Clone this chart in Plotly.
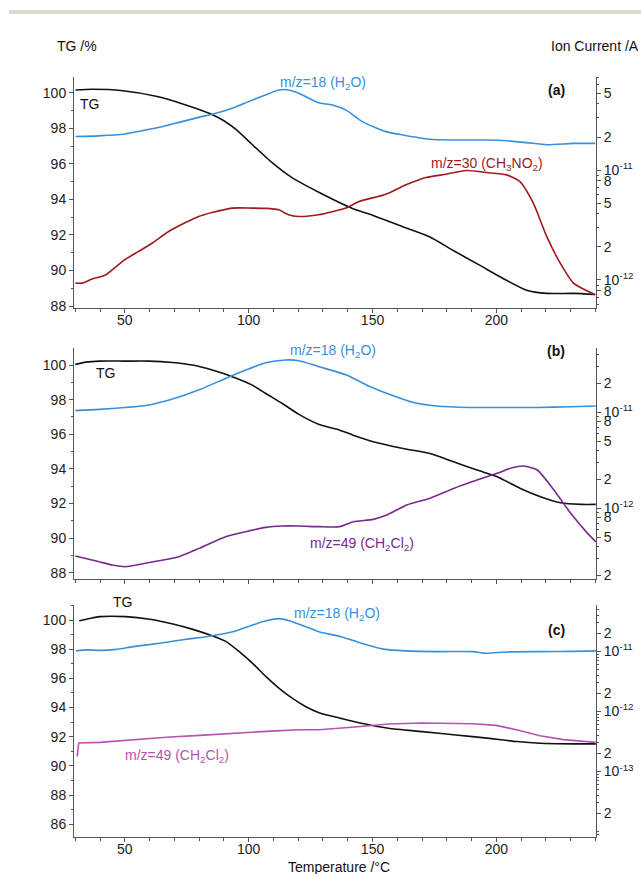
import math
import plotly.graph_objects as go

# ---------------- data ----------------
# Panel (a)
a_tg_t = [30.1, 36.8, 49.2, 62.6, 73.4, 84.8, 90.0, 95.0, 101.3, 109.6, 117.5, 128.3, 141.9, 150.0, 162.2, 173.0, 182.4, 193.2, 202.7, 212.2, 220.3, 231.1, 239.9]
a_tg_v = [100.15, 100.19, 100.11, 99.80, 99.37, 98.80, 98.42, 97.92, 97.10, 96.05, 95.22, 94.40, 93.49, 93.11, 92.46, 91.90, 91.14, 90.30, 89.55, 88.89, 88.71, 88.71, 88.65]

a_h2o_t = [30.1, 39.5, 50.0, 57.0, 65.0, 72.0, 79.8, 85.2, 93.3, 100.0, 106.7, 112.1, 116.1, 120.2, 128.2, 133.8, 139.2, 145.9, 155.4, 162.2, 173.0, 182.4, 196.0, 204.1, 212.2, 220.3, 231.1, 239.9]
a_h2o_i = [2.02e-11, 2.05e-11, 2.13e-11, 2.28e-11, 2.48e-11, 2.72e-11, 3.02e-11, 3.22e-11, 3.65e-11, 4.20e-11, 4.83e-11, 5.36e-11, 5.36e-11, 5.00e-11, 4.11e-11, 3.92e-11, 3.53e-11, 2.76e-11, 2.24e-11, 2.09e-11, 1.91e-11, 1.88e-11, 1.88e-11, 1.85e-11, 1.78e-11, 1.70e-11, 1.75e-11, 1.75e-11]

a_m30_t = [30.1, 32.8, 36.8, 42.2, 50.0, 55.6, 61.0, 67.7, 74.5, 79.8, 85.2, 93.3, 101.3, 106.7, 112.1, 116.1, 120.2, 128.2, 139.2, 144.6, 155.4, 163.5, 171.6, 179.7, 187.8, 196.0, 204.1, 209.5, 214.9, 220.3, 225.7, 231.1, 236.5, 239.9]
a_m30_i = [9.37e-13, 9.37e-13, 1.02e-12, 1.11e-12, 1.53e-12, 1.82e-12, 2.16e-12, 2.76e-12, 3.33e-12, 3.78e-12, 4.11e-12, 4.51e-12, 4.51e-12, 4.48e-12, 4.35e-12, 3.92e-12, 3.78e-12, 3.92e-12, 4.51e-12, 5.18e-12, 6.04e-12, 7.34e-12, 8.56e-12, 9.18e-12, 9.91e-12, 9.50e-12, 9.05e-12, 7.87e-12, 5.00e-12, 2.49e-12, 1.43e-12, 9.37e-13, 7.98e-13, 7.34e-13]

# Panel (b)
b_tg_t = [30.0, 34.3, 39.7, 50.1, 59.8, 69.2, 77.3, 85.3, 93.4, 101.5, 106.9, 113.6, 120.3, 128.4, 136.8, 142.2, 150.3, 162.4, 173.2, 182.7, 192.2, 200.3, 209.7, 217.8, 225.9, 234.1, 240.1]
b_tg_v = [100.04, 100.17, 100.23, 100.23, 100.23, 100.15, 100.0, 99.71, 99.33, 98.84, 98.36, 97.78, 97.15, 96.57, 96.24, 95.95, 95.57, 95.18, 94.89, 94.41, 93.93, 93.55, 92.87, 92.39, 92.04, 91.95, 91.95]

b_h2o_t = [30.0, 39.7, 50.1, 59.8, 69.2, 80.0, 90.7, 98.8, 106.9, 114.9, 120.3, 128.4, 139.5, 148.9, 158.4, 166.5, 175.9, 189.5, 203.0, 216.5, 230.0, 240.1]
b_h2o_i = [1.04e-11, 1.07e-11, 1.12e-11, 1.19e-11, 1.37e-11, 1.71e-11, 2.25e-11, 2.75e-11, 3.28e-11, 3.50e-11, 3.44e-11, 2.98e-11, 2.44e-11, 1.85e-11, 1.48e-11, 1.26e-11, 1.16e-11, 1.12e-11, 1.12e-11, 1.12e-11, 1.14e-11, 1.16e-11]

b_m49_t = [30.0, 39.7, 45.0, 50.4, 55.8, 63.8, 71.9, 80.0, 90.7, 98.8, 106.9, 113.6, 120.3, 128.4, 136.8, 142.2, 150.3, 155.7, 163.8, 173.2, 182.7, 192.2, 200.3, 205.7, 211.1, 216.5, 223.2, 230.0, 236.8, 240.1]
b_m49_i = [3.18e-13, 2.77e-13, 2.56e-13, 2.46e-13, 2.60e-13, 2.84e-13, 3.13e-13, 3.82e-13, 5.06e-13, 5.70e-13, 6.32e-13, 6.53e-13, 6.53e-13, 6.43e-13, 6.43e-13, 7.24e-13, 7.66e-13, 8.49e-13, 1.08e-12, 1.27e-12, 1.61e-12, 1.97e-12, 2.31e-12, 2.61e-12, 2.75e-12, 2.50e-12, 1.55e-12, 8.85e-13, 5.47e-13, 4.49e-13]

# Panel (c)
c_tg_t = [31.6, 35.9, 39.9, 50.4, 60.1, 69.4, 77.5, 85.5, 90.9, 96.2, 101.6, 107.0, 112.3, 117.7, 123.1, 128.4, 137.3, 145.5, 156.4, 170.0, 183.6, 197.2, 208.1, 217.6, 231.2, 240.1]
c_tg_v = [99.95, 100.11, 100.23, 100.23, 100.05, 99.73, 99.36, 98.90, 98.52, 97.83, 97.03, 96.12, 95.32, 94.63, 94.06, 93.65, 93.26, 92.92, 92.58, 92.35, 92.12, 91.89, 91.67, 91.55, 91.51, 91.51]

c_h2o_t = [30.3, 34.6, 39.9, 46.6, 53.4, 64.1, 74.8, 82.8, 93.6, 101.6, 107.0, 112.3, 116.4, 123.1, 128.4, 137.3, 145.5, 155.0, 163.2, 176.8, 190.4, 195.9, 204.0, 217.6, 231.2, 240.1]
c_h2o_i = [1.02e-11, 1.06e-11, 1.04e-11, 1.08e-11, 1.20e-11, 1.37e-11, 1.59e-11, 1.76e-11, 2.13e-11, 2.75e-11, 3.24e-11, 3.51e-11, 3.24e-11, 2.58e-11, 2.13e-11, 1.76e-11, 1.37e-11, 1.08e-11, 1.02e-11, 9.93e-12, 9.93e-12, 9.31e-12, 9.80e-12, 9.93e-12, 1.00e-11, 1.02e-11]

c_m49_t = [30.8, 31.4, 39.9, 53.4, 66.8, 80.2, 93.6, 107.0, 120.4, 128.4, 142.8, 149.6, 156.4, 170.0, 183.6, 190.4, 199.9, 208.1, 217.6, 227.1, 240.1]
c_m49_i = [1.79e-13, 2.98e-13, 3.06e-13, 3.39e-13, 3.71e-13, 4.00e-13, 4.37e-13, 4.66e-13, 4.97e-13, 4.97e-13, 5.50e-13, 5.79e-13, 6.17e-13, 6.41e-13, 6.41e-13, 6.25e-13, 5.86e-13, 4.97e-13, 3.95e-13, 3.39e-13, 3.06e-13]

# tick definitions
x_ticks = [50, 100, 150, 200]
a_r_vals = [5e-11, 2e-11, 1e-11, 8e-12, 5e-12, 2e-12, 1e-12, 8e-13]
a_r_text = ["5", "2", "10<sup>-11</sup>", "8", "5", "2", "10<sup>-12</sup>", "8"]
b_r_vals = [2e-11, 1e-11, 8e-12, 5e-12, 2e-12, 1e-12, 8e-13, 5e-13, 2e-13]
b_r_text = ["2", "10<sup>-11</sup>", "8", "5", "2", "10<sup>-12</sup>", "8", "5", "2"]
c_r_vals = [2e-11, 1e-11, 2e-12, 1e-12, 2e-13, 1e-13, 2e-14]
c_r_text = ["2", "10<sup>-11</sup>", "2", "10<sup>-12</sup>", "2", "10<sup>-13</sup>", "2"]

# ---------------- style ----------------
FONT = "Arial, Liberation Sans, sans-serif"
BLACK = "#111111"
BLUE = "#3a8fd9"
DRED = "#a0191c"
PURPLE = "#772a8c"
MAGENTA = "#b653b2"
AXC = "#555555"
W, H = 641, 874
ML, MR = 74, 45
PW = W - ML - MR


def fx(xp):
    return (xp - ML) / PW


def fy(yp):
    return 1 - yp / H


def minor_log(lo, hi, majors):
    out = []
    for e in range(-16, -9):
        for k in range(1, 10):
            v = k * 10 ** e
            if lo <= v <= hi and all(abs(v - m) / m > 1e-6 for m in majors):
                out.append(v)
    return out


fig = go.Figure()


def line(t, v, color, xa, ya, shape="spline"):
    fig.add_trace(go.Scatter(x=t, y=v, mode="lines", xaxis=xa, yaxis=ya,
                             line=dict(color=color, width=1.6, shape=shape, smoothing=0.6),
                             showlegend=False, hoverinfo="skip"))


line(a_tg_t, a_tg_v, BLACK, "x", "y")
line(a_h2o_t, a_h2o_i, BLUE, "x", "y2")
line(a_m30_t, a_m30_i, DRED, "x", "y2")
line(b_tg_t, b_tg_v, BLACK, "x2", "y3")
line(b_h2o_t, b_h2o_i, BLUE, "x2", "y4")
line(b_m49_t, b_m49_i, PURPLE, "x2", "y4")
line(c_tg_t, c_tg_v, BLACK, "x3", "y5")
line(c_h2o_t, c_h2o_i, BLUE, "x3", "y6")
line(c_m49_t, c_m49_i, MAGENTA, "x3", "y6", shape="linear")

tickfont = dict(family=FONT, size=14, color="#222222")

panels = [
    ("xaxis", "yaxis", "yaxis2", "y", 76.7, 308.0, [87.89, 100.9], [5.56e-13, 7.08e-11], a_r_vals, a_r_text, True),
    ("xaxis2", "yaxis3", "yaxis4", "y3", 348.3, 579.3, [87.62, 100.97], [1.82e-13, 4.63e-11], b_r_vals, b_r_text, False),
    ("xaxis3", "yaxis5", "yaxis6", "y5", 605.0, 836.7, [85.15, 101.03], [8.2e-15, 5.93e-11], c_r_vals, c_r_text, True),
]

layout = {}
for i, (xn, yl, yr, ylref, top, bot, lr, rr, rv, rt, showx) in enumerate(panels):
    dom = [fy(bot), fy(top)]
    layout[xn] = dict(domain=[0, 1], range=[29.5, 240.2], anchor=ylref,
                      showline=True, linecolor=AXC, linewidth=1, showgrid=False, zeroline=False,
                      ticks="outside", ticklen=4, tickcolor=AXC, tickvals=x_ticks,
                      showticklabels=showx, tickfont=tickfont, ticklabelstandoff=-5,
                      minor=dict(dtick=10, tick0=0, ticks="outside", ticklen=3, tickcolor=AXC))
    xref = "x" if i == 0 else "x%d" % (i + 1)
    layout[yl] = dict(domain=dom, range=lr, anchor=xref, side="left",
                      showline=True, linecolor=AXC, linewidth=1, showgrid=False, zeroline=False,
                      ticks="outside", ticklen=4, tickcolor=AXC, dtick=2, tick0=0,
                      tickfont=tickfont,
                      minor=dict(dtick=1, tick0=0, ticks="outside", ticklen=2, tickcolor=AXC))
    layout[yr] = dict(type="log", range=[math.log10(rr[0]), math.log10(rr[1])],
                      overlaying=ylref, anchor=xref, side="right",
                      showline=True, linecolor=AXC, linewidth=1, showgrid=False, zeroline=False,
                      ticks="outside", ticklen=4, tickcolor=AXC,
                      tickmode="array", tickvals=rv, ticktext=rt, tickfont=tickfont,
                      minor=dict(tickmode="array", tickvals=minor_log(rr[0], rr[1], rv),
                                 ticks="outside", ticklen=2, tickcolor=AXC))

fig.update_layout(**layout)


def ann(text, xp, yp, color=BLACK, size=14, xanchor="center", bold=False):
    if bold:
        text = "<b>" + text + "</b>"
    fig.add_annotation(text=text, x=fx(xp), y=fy(yp), xref="paper", yref="paper",
                       xanchor=xanchor, yanchor="middle", showarrow=False,
                       font=dict(family=FONT, size=size, color=color))


ann("TG /%", 55, 46, xanchor="left")
ann("Ion Current /A", 641, 46, xanchor="right")
ann("Temperature /°C", 339, 867)

ann("TG", 89, 104)
ann("m/z=18 (H<sub>2</sub>O)", 323, 83, BLUE)
ann("m/z=30 (CH<sub>3</sub>NO<sub>2</sub>)", 487, 164, DRED)
ann("(a)", 556, 90, bold=True)

ann("TG", 105, 373)
ann("m/z=18 (H<sub>2</sub>O)", 333, 351, BLUE)
ann("m/z=49 (CH<sub>2</sub>Cl<sub>2</sub>)", 362, 544, PURPLE)
ann("(b)", 556, 351, bold=True)

ann("TG", 122, 602)
ann("m/z=18 (H<sub>2</sub>O)", 337, 614, BLUE)
ann("m/z=49 (CH<sub>2</sub>Cl<sub>2</sub>)", 177, 756, MAGENTA)
ann("(c)", 556, 630, bold=True)

fig.add_shape(type="rect", xref="paper", yref="paper",
              x0=fx(9), x1=fx(641), y0=fy(14), y1=fy(10),
              fillcolor="#dcd8cc", line=dict(width=0), layer="above")

fig.update_layout(width=W, height=H, margin=dict(l=ML, r=MR, t=0, b=0, autoexpand=False),
                  paper_bgcolor="white", plot_bgcolor="white", showlegend=False,
                  font=dict(family=FONT, size=14, color="#222222"))

fig.write_html("out.html")
